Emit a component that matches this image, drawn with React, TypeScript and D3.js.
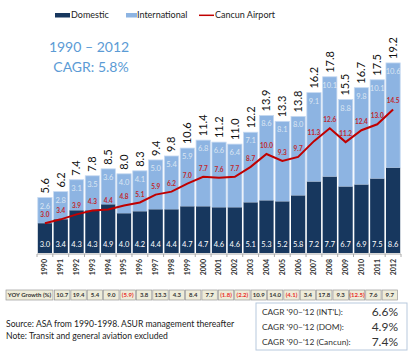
import React from "react";
import * as d3 from "d3";

const years = ["1990","1991","1992","1993","1994","1995","1996","1997","1998","1999","2000","2001","2002","2003","2004","2005","2006","2007","2008","2009","2010","2011","2012"];
const domestic = [3.0,3.4,4.3,4.3,4.9,4.0,4.2,4.4,4.4,4.7,4.7,4.6,4.6,5.1,5.3,5.2,5.8,7.2,7.7,6.7,6.9,7.5,8.6];
const international = [2.6,2.8,3.1,3.5,3.6,4.0,4.1,5.0,5.4,5.9,6.8,6.6,6.4,7.1,8.6,8.1,8.0,9.1,10.1,8.8,9.8,10.1,10.6];
const totals = [5.6,6.2,7.4,7.8,8.5,8.0,8.3,9.4,9.8,10.6,11.4,11.2,11.0,12.2,13.9,13.3,13.8,16.2,17.8,15.5,16.7,17.5,19.2];
const cancun = [3.0,3.4,3.9,4.3,4.4,4.8,5.1,5.9,6.2,7.0,7.7,7.6,7.7,8.7,10.0,9.3,9.7,11.3,12.6,11.2,12.4,13.0,14.5];
const yoyGrowth = ["10.7","19.4","5.4","9.0","(5.9)","3.8","13.3","4.3","8.4","7.7","(1.8)","(2.2)","10.9","14.0","(4.1)","3.4","17.8","9.3","(12.5)","7.6","9.7"];
const cagrLabels = ["CAGR '90–'12 (INT'L):","CAGR '90–'12 (DOM):","CAGR '90–'12 (Cancun):"];
const cagrValues = ["6.6%","4.9%","7.4%"];

const DARK = "#17375e";
const LIGHT = "#8db4e2";
const RED = "#c00000";
const FONT = "Lato, 'Open Sans', sans-serif";

export default function App() {
  const W = 409, H = 352;
  const x = d3.scaleBand<string>().domain(years).range([37, 401]).paddingInner(0.1).paddingOuter(0.05);
  const y = d3.scaleLinear().domain([0, 20]).range([253, 55]);
  const bw = x.bandwidth();
  const cx = (yr: string) => (x(yr) as number) + bw / 2;
  const line = d3.line<number>().x((_, i) => cx(years[i])).y(d => y(d));
  const step = x.step();

  const cellStart = 54, cellEnd = 398;
  const cellW = (cellEnd - cellStart) / yoyGrowth.length;

  return (
    <svg width={W} height={H} style={{ position: "absolute", left: 0, top: 0, background: "#fff" }} fontFamily={FONT}>
      {/* legend */}
      <g fontSize={9} fill="#222">
        <rect x={55} y={13} width={15} height={4.5} fill={DARK} />
        <text x={71} y={18.2}>Domestic</text>
        <rect x={126} y={13} width={11} height={4.5} fill={LIGHT} />
        <text x={137} y={18.2}>International</text>
        <line x1={199} x2={214} y1={15.3} y2={15.3} stroke={RED} strokeWidth={1.5} />
        <text x={215} y={18.2}>Cancun Airport</text>
      </g>
      {/* title */}
      <g fill="#5b9bd5" fontSize={14} textAnchor="middle">
        <text x={89} y={52}>1990 – 2012</text>
        <text x={91} y={72}>CAGR: 5.8%</text>
      </g>
      {/* bars */}
      {years.map((yr, i) => {
        const x0 = x(yr) as number;
        const yd = y(domestic[i]);
        const yt = y(totals[i]);
        return (
          <g key={yr}>
            <rect x={x0} y={yt} width={bw} height={yd - yt} fill={LIGHT} stroke="#c6d9f1" strokeWidth={0.8} />
            <rect x={x0} y={yd} width={bw} height={y(0) - yd} fill={DARK} />
            <text x={cx(yr)} y={y(0) - 6} textAnchor="middle" fontSize={7.5} fill="#fff">{domestic[i].toFixed(1)}</text>
            <text x={cx(yr)} y={yt + 11} textAnchor="middle" fontSize={7.5} fill="#dce6f2">{international[i].toFixed(1)}</text>
            <text transform={`translate(${cx(yr)},${yt - 4}) rotate(-90)`} dy="0.35em" fontSize={11} fill="#111">{totals[i].toFixed(1)}</text>
          </g>
        );
      })}
      {/* Cancun line */}
      <path d={line(cancun) || ""} fill="none" stroke={RED} strokeWidth={2} />
      {years.map((yr, i) => (
        <text key={"c" + yr} x={cx(yr)} y={y(cancun[i]) - 6} textAnchor="middle" fontSize={6.5} fontWeight="bold" fill="#c0282d">{cancun[i].toFixed(1)}</text>
      ))}
      {/* axis */}
      <line x1={37} x2={401} y1={254} y2={254} stroke="#aaa" strokeWidth={1} />
      {years.map((yr) => (
        <line key={"t" + yr} x1={(x(yr) as number) - (step - bw) / 2} x2={(x(yr) as number) - (step - bw) / 2} y1={254} y2={257} stroke="#aaa" />
      ))}
      <line x1={401} x2={401} y1={254} y2={257} stroke="#aaa" />
      {years.map(yr => (
        <text key={"y" + yr} transform={`translate(${cx(yr)},259) rotate(-90)`} dy="0.35em" textAnchor="end" fontSize={7} fontWeight="bold" fill="#333">{yr}</text>
      ))}
      {/* YOY table */}
      <g fontSize={6} fontWeight="bold">
        <rect x={6} y={290} width={47} height={10} fill="#eeecd9" stroke="#999" strokeWidth={0.7} />
        <text x={29.5} y={297.3} textAnchor="middle" fill="#333">YOY Growth (%)</text>
        {yoyGrowth.map((g, i) => {
          const cx0 = cellStart + i * cellW;
          return (
            <g key={"g" + i}>
              <rect x={cx0 + 0.5} y={290} width={cellW - 1} height={10} fill="#eeecd9" stroke="#999" strokeWidth={0.7} />
              <text x={cx0 + cellW / 2} y={297.3} textAnchor="middle" fill={g.startsWith("(") ? "#e8302a" : "#333"}>{g}</text>
            </g>
          );
        })}
      </g>
      {/* notes */}
      <g fontSize={8.6} fill="#222">
        <text x={6} y={327}>Source: ASA from 1990-1998. ASUR management thereafter</text>
        <text x={6} y={338.5}>Note: Transit and general aviation excluded</text>
      </g>
      {/* CAGR box */}
      <rect x={256} y={303} width={151} height={47} fill="#fff" stroke="#b8c9dd" strokeWidth={1} />
      {cagrLabels.map((l, i) => (
        <g key={"cg" + i}>
          <text x={262} y={315 + i * 15} fontSize={8.4} fill="#333">{l}</text>
          <text x={398} y={316 + i * 15} fontSize={12} fill="#333" textAnchor="end">{cagrValues[i]}</text>
        </g>
      ))}
    </svg>
  );
}
